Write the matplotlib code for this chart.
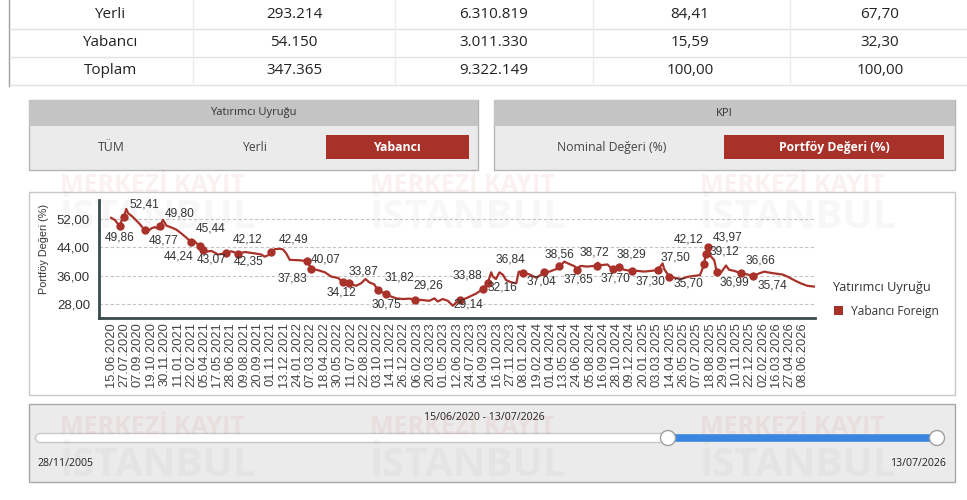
import matplotlib
matplotlib.use('Agg')
import matplotlib.pyplot as plt
import matplotlib.dates as mdates
from matplotlib.patches import Rectangle, Circle
import pandas as pd

# ---- summary table ----
row_names = ['Yerli', 'Yabancı', 'Toplam']
investor_count = ['293.214', '54.150', '347.365']
nominal_value = ['6.310.819', '3.011.330', '9.322.149']
count_pct = ['84,41', '15,59', '100,00']
value_pct = ['67,70', '32,30', '100,00']

# ---- Yabancı portföy değeri (%) series ----
dates = [
    '2020-06-15', '2020-06-27', '2020-07-09', '2020-07-13', '2020-07-20', '2020-07-26', '2020-08-02',
    '2020-08-08', '2020-08-18', '2020-08-29', '2020-09-14', '2020-09-29', '2020-10-10', '2020-10-20',
    '2020-10-31', '2020-11-08', '2020-11-16', '2020-11-26', '2020-12-07', '2020-12-22',
    '2021-01-07', '2021-01-23', '2021-02-08', '2021-02-22', '2021-03-06', '2021-03-17', '2021-03-24',
    '2021-04-01', '2021-04-12', '2021-04-28', '2021-05-19', '2021-06-09', '2021-06-14', '2021-06-30',
    '2021-07-21', '2021-08-11', '2021-09-12', '2021-10-02', '2021-10-13', '2021-10-24', '2021-11-03',
    '2021-11-14', '2021-11-30', '2021-12-10', '2021-12-20', '2021-12-31',
    '2022-01-26', '2022-02-25', '2022-03-09', '2022-03-30', '2022-04-21', '2022-05-11', '2022-06-02',
    '2022-06-16', '2022-07-07', '2022-07-28', '2022-08-13', '2022-08-27', '2022-09-08', '2022-09-24',
    '2022-10-05', '2022-10-15', '2022-10-31', '2022-11-16', '2022-12-02', '2022-12-23',
    '2023-01-13', '2023-01-31', '2023-02-24', '2023-03-17', '2023-04-02', '2023-04-12', '2023-04-28',
    '2023-05-14', '2023-05-30', '2023-06-09', '2023-06-22', '2023-07-11', '2023-07-27', '2023-08-11',
    '2023-09-01', '2023-09-17', '2023-09-28', '2023-10-03', '2023-10-13', '2023-10-24', '2023-11-04',
    '2023-11-14', '2023-11-30', '2023-12-16', '2023-12-24',
    '2024-01-06', '2024-01-27', '2024-02-17', '2024-03-03', '2024-03-14', '2024-03-30', '2024-04-20',
    '2024-04-30', '2024-05-16', '2024-06-01', '2024-06-17', '2024-06-24', '2024-07-06', '2024-07-27',
    '2024-08-17', '2024-08-26', '2024-08-29', '2024-09-08', '2024-09-29', '2024-10-15', '2024-11-05',
    '2024-11-21', '2024-12-14',
    '2025-01-02', '2025-01-23', '2025-02-13', '2025-03-06', '2025-03-22', '2025-03-27', '2025-04-12',
    '2025-04-27', '2025-05-19', '2025-06-08', '2025-06-30', '2025-07-18', '2025-07-31', '2025-08-05',
    '2025-08-13', '2025-08-21', '2025-09-01', '2025-09-09', '2025-09-22', '2025-10-08', '2025-10-18',
    '2025-11-03', '2025-11-24', '2025-12-15', '2025-12-31',
    '2026-01-21', '2026-02-06', '2026-02-16', '2026-03-09', '2026-04-04', '2026-04-20', '2026-05-11',
    '2026-06-01', '2026-06-22', '2026-07-13',
]
values = [
    52.2, 51.6, 50.2, 49.86, 52.0, 52.41, 54.7, 53.5, 52.8, 51.9, 50.4, 48.77, 48.5, 49.2,
    49.6, 49.2, 49.80, 51.6, 50.0, 49.5,
    48.9, 47.8, 46.6, 45.44, 45.6, 44.6, 44.24, 43.07, 42.7, 42.9, 41.9, 42.2, 42.35, 42.8,
    42.12, 42.6, 42.2, 41.9, 41.3, 41.7, 42.49, 43.4, 43.5, 43.3, 42.2, 40.4,
    40.3, 40.07, 37.83, 37.5, 36.9, 35.7, 35.3, 34.12, 33.87, 33.1, 33.8, 35.0, 34.1, 33.5,
    31.82, 31.5, 30.75, 30.1, 29.6, 29.4,
    29.5, 29.26, 29.1, 28.9, 29.6, 28.7, 29.4, 28.9, 27.5, 28.4, 29.14, 29.6, 30.3, 30.9,
    32.16, 33.88, 36.9, 35.7, 35.0, 36.9, 36.2, 34.7, 34.1, 33.8, 37.1,
    36.84, 36.3, 35.4, 36.2, 37.04, 37.1, 37.8, 38.56, 39.9, 39.2, 38.6, 37.65, 38.7, 38.5,
    38.7, 38.72, 39.6, 38.9, 39.1, 37.70, 38.29, 37.6, 37.30,
    37.3, 37.1, 37.3, 37.50, 39.4, 37.8, 35.70, 35.4, 35.0, 35.6, 35.9, 36.1, 39.12, 42.12,
    43.97, 41.4, 40.3, 36.99, 36.8, 38.8, 37.6, 37.3, 36.66, 36.3, 35.74,
    36.6, 37.1, 36.9, 36.6, 36.3, 35.7, 34.7, 33.8, 33.1, 32.9,
]

# labelled points (data labels shown on the chart)
label_dates = [
    '2020-07-13', '2020-07-26', '2020-09-29', '2020-11-16', '2021-02-22', '2021-03-24',
    '2021-04-01', '2021-06-14', '2021-07-21', '2021-11-03', '2022-02-25', '2022-03-09',
    '2022-06-16', '2022-07-07', '2022-10-05', '2022-10-31', '2023-01-31', '2023-06-22',
    '2023-09-01', '2023-09-17', '2024-01-06', '2024-03-14', '2024-04-30', '2024-06-24',
    '2024-08-26', '2024-10-15', '2024-11-05', '2024-12-14', '2025-03-06', '2025-04-12',
    '2025-07-31', '2025-08-05', '2025-08-13', '2025-09-09', '2025-11-24', '2025-12-31',
]
label_values = [
    49.86, 52.41, 48.77, 49.80, 45.44, 44.24, 43.07, 42.35, 42.12, 42.49, 40.07, 37.83,
    34.12, 33.87, 31.82, 30.75, 29.26, 29.14, 32.16, 33.88, 36.84, 37.04, 38.56, 37.65,
    38.72, 37.70, 38.29, 37.30, 37.50, 35.70, 39.12, 42.12, 43.97, 36.99, 36.66, 35.74,
]
# label text centre relative to its point, in pixels (x right, y down)
label_offsets = [
    (0, 11), (20, -13), (19, 10), (20, -13), (20, -13), (-22, 10),
    (9, 9), (22, 9), (10, -14), (22, -13), (18, -2), (-19, 10),
    (-1, 10), (14, -12), (22, -13), (0, 10), (13, -14), (8, 5),
    (20, -2), (-20, -8), (-12, -13), (-3, 10), (0, -12), (2, 10),
    (-2, -13), (3, 9), (12, -13), (19, 11), (18, -13), (19, 7),
    (20, -13), (-17, -14), (19, -10), (18, 11), (20, -13), (20, 9),
]

y_ticks = [28, 36, 44, 52]
tick_start, tick_end = '2020-06-15', '2026-06-08'

RED = '#a8312a'
UI = 'Open Sans'
CH = 'Liberation Sans'

fig = plt.figure(figsize=(9.67, 5.0), dpi=100)
bg = fig.add_axes([0, 0, 1, 1])
bg.set_xlim(0, 967)
bg.set_ylim(500, 0)
bg.axis('off')

# ---- table ----
bg.plot([9, 9], [0, 86], color='#a0a0a0', lw=1)
for yl in [29, 57, 85]:
    bg.plot([10, 967], [yl, yl], color='#e2e2e2', lw=1)
for xl in [193, 395, 593, 790]:
    bg.plot([xl, xl], [0, 85], color='#ececec', lw=1)
col_x = [110, 294, 494, 690, 880]
row_y = [15, 43, 71]
for i in range(3):
    cells = [row_names[i], investor_count[i], nominal_value[i], count_pct[i], value_pct[i]]
    for cx, txt in zip(col_x, cells):
        bg.text(cx, row_y[i], txt, ha='center', va='center', fontsize=11, family=UI, color='#222222')

# ---- filter panels ----
def panel(x0, x1, title):
    bg.add_patch(Rectangle((x0, 100), x1 - x0, 70, facecolor='#ebebeb', edgecolor='#b4b4b4', lw=1))
    bg.add_patch(Rectangle((x0, 100), x1 - x0, 26, facecolor='#c4c4c4', edgecolor='none'))
    bg.text((x0 + x1) / 2, 113, title, ha='center', va='center', fontsize=8, family=UI, color='#333333')

panel(29, 478, 'Yatırımcı Uyruğu')
bg.text(111, 147.5, 'TÜM', ha='center', va='center', fontsize=8.8, family=UI, color='#444444')
bg.text(255, 147.5, 'Yerli', ha='center', va='center', fontsize=8.8, family=UI, color='#444444')
bg.add_patch(Rectangle((326, 135), 143, 24, facecolor=RED, edgecolor='none'))
bg.text(397, 147.5, 'Yabancı', ha='center', va='center', fontsize=8.8, family=UI,
        color='white', fontweight='bold')

panel(494, 955, 'KPI')
bg.text(612, 147.5, 'Nominal Değeri (%)', ha='center', va='center', fontsize=8.8, family=UI, color='#444444')
bg.add_patch(Rectangle((724, 135), 220, 24, facecolor=RED, edgecolor='none'))
bg.text(834, 147.5, 'Portföy Değeri (%)', ha='center', va='center', fontsize=8.8, family=UI,
        color='white', fontweight='bold')

# ---- chart box ----
bg.add_patch(Rectangle((29, 192), 926, 203, facecolor='white', edgecolor='#c8c8c8', lw=1))
bg.text(44, 249, 'Portföy Değeri (%)', rotation=90, ha='center', va='center',
        fontsize=7.8, family=CH, color='#333333')
bg.text(832, 288, 'Yatırımcı Uyruğu', ha='left', va='center', fontsize=9.2, family=UI, color='#333333')
bg.add_patch(Rectangle((834, 306), 9, 9, facecolor=RED, edgecolor='none'))
bg.text(851, 311, 'Yabancı Foreign', ha='left', va='center', fontsize=8.6, family=UI, color='#333333')

# ---- slider ----
bg.add_patch(Rectangle((29, 404), 926, 78, facecolor='#ebebeb', edgecolor='#a8a8a8', lw=1))
bg.text(484, 418, '15/06/2020 - 13/07/2026', ha='center', va='center', fontsize=7.6, family=UI, color='#222222')
bg.plot([40, 668], [438, 438], color='#c8c8c8', lw=7.5, solid_capstyle='round')
bg.plot([40, 668], [438, 438], color='white', lw=5.5, solid_capstyle='round')
bg.plot([668, 937], [438, 438], color='#3b86e0', lw=5.5)
for hx in [668, 937]:
    bg.add_patch(Circle((hx, 438), 7.5, facecolor='white', edgecolor='#a0a0a0', lw=1, zorder=5))
bg.text(38, 463, '28/11/2005', ha='left', va='center', fontsize=7.6, family=UI, color='#222222')
bg.text(946, 463, '13/07/2026', ha='right', va='center', fontsize=7.6, family=UI, color='#222222')

# ---- watermark ----
for wx in [60, 370, 700]:
    for wy1, wy2 in [(185, 218), (428, 465)]:
        bg.text(wx, wy1, 'MERKEZİ KAYIT', ha='left', va='center', fontsize=18, family=UI,
                fontweight='bold', color='#d23c3c', alpha=0.07, zorder=10)
        bg.text(wx, wy2, 'İSTANBUL', ha='left', va='center', fontsize=29, family=UI,
                fontweight='bold', color='#808080', alpha=0.06, zorder=10)

# ---- line chart ----
d = pd.to_datetime(dates)
ld = pd.to_datetime(label_dates)
ax = fig.add_axes([99 / 967, 182 / 500, 716 / 967, 118 / 500])
ax.set_facecolor('none')
ax.plot(d, values, color=RED, lw=1.6, solid_joinstyle='round')
ax.plot(ld, label_values, 'o', color=RED, ms=6, mec='none')
for x, v, (dx, dy) in zip(ld, label_values, label_offsets):
    ax.annotate(f'{v:.2f}'.replace('.', ','), xy=(x, v), xytext=(dx * 0.72, -dy * 0.72),
                textcoords='offset points', ha='center', va='center', fontsize=8.6,
                family=CH, color='#333333')

start = pd.Timestamp(tick_start)
ax.set_xlim(start - pd.Timedelta(days=38), start + pd.Timedelta(days=2222))
ax.set_ylim(24.07, 57.2)
ax.set_yticks(y_ticks)
ax.set_yticklabels([f'{t:.2f}'.replace('.', ',') for t in y_ticks], family=CH, fontsize=9.5, color='#333333')
ax.yaxis.grid(True, color='#c4c4c4', ls=(0, (3, 2)), lw=0.8)
ax.set_axisbelow(True)

xt = pd.date_range(tick_start, tick_end, freq='42D')
ax.set_xticks(xt)
ax.set_xticklabels([t.strftime('%d.%m.%Y') for t in xt], rotation=90, family=CH,
                   fontsize=9.3, color='#444444', va='top')
ax.tick_params(axis='both', length=0)
ax.tick_params(axis='y', pad=6.5)
ax.tick_params(axis='x', pad=3)
for s in ['top', 'right']:
    ax.spines[s].set_visible(False)
for s in ['left', 'bottom']:
    ax.spines[s].set_color('#394b4b')
    ax.spines[s].set_linewidth(2)

fig.savefig('out.png', dpi=100)
